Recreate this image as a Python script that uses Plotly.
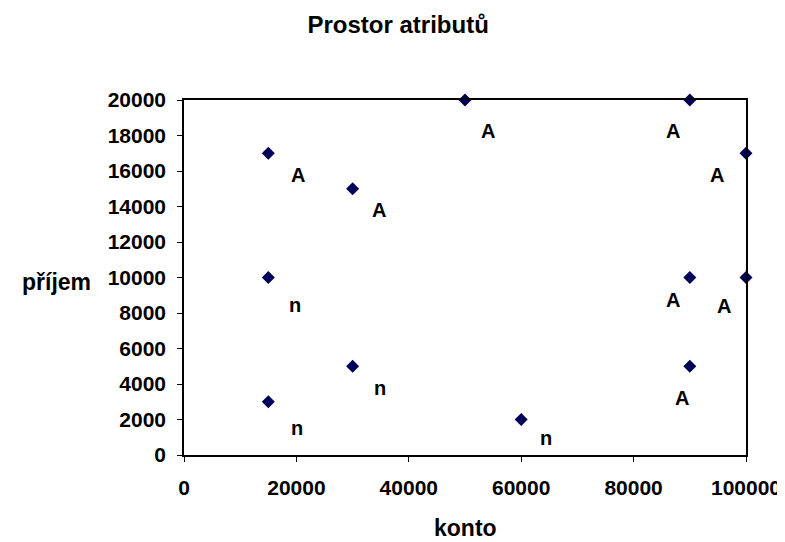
import plotly.graph_objects as go

# data
konto = [15000, 30000, 50000, 90000, 100000, 15000, 90000, 100000, 30000, 15000, 60000, 90000]
prijem = [17000, 15000, 20000, 20000, 17000, 10000, 10000, 10000, 5000, 3000, 2000, 5000]

label_text = ["A", "A", "A", "A", "A", "n", "A", "A", "n", "n", "n", "A"]
label_x = [20354, 34690, 54159, 87080, 94867, 19823, 87080, 96106, 34867, 20177, 64425, 88673]
label_y = [15775, 13803, 18254, 18254, 15775, 8451, 8732, 8394, 3775, 1521, 958, 3211]

x_ticks = [0, 20000, 40000, 60000, 80000, 100000]
y_ticks = list(range(0, 20001, 2000))

FONT = "Liberation Sans, Arial, sans-serif"
tick_font = dict(family=FONT, size=21, color="black")

fig = go.Figure()
fig.add_trace(go.Scatter(
    x=konto, y=prijem, mode="markers",
    marker=dict(symbol="diamond", size=10, color="#000058"),
    cliponaxis=False, showlegend=False,
))

for t, x, y in zip(label_text, label_x, label_y):
    fig.add_annotation(x=x, y=y, text=f"<b>{t}</b>", showarrow=False,
                       font=dict(family=FONT, size=20, color="black"))

fig.add_annotation(xref="paper", yref="paper", x=-0.2265, y=0.487, xanchor="center", yanchor="middle",
                   text="<b>příjem</b>", showarrow=False,
                   font=dict(family=FONT, size=23, color="black"))
fig.add_annotation(xref="paper", yref="paper", x=0.5, y=-0.2056, xanchor="center", yanchor="middle",
                   text="<b>konto</b>", showarrow=False,
                   font=dict(family=FONT, size=23, color="black"))

fig.update_layout(
    width=785, height=542,
    margin=dict(l=176, r=42, t=92, b=95),
    paper_bgcolor="white", plot_bgcolor="white",
    title=dict(text="<b>Prostor atributů</b>", x=0.497, xanchor="center", y=0.97, yanchor="middle",
               font=dict(family=FONT, size=24, color="black")),
    xaxis=dict(range=[0, 100000], tickvals=x_ticks, ticktext=[f"<b>{v}</b>" for v in x_ticks],
               showgrid=False, zeroline=False, showline=True, linecolor="black", linewidth=1.5,
               mirror=True, ticks="outside", ticklen=5, tickcolor="black", tickfont=tick_font,
               ticklabelstandoff=8),
    yaxis=dict(range=[0, 20000], tickvals=y_ticks, ticktext=[f"<b>{v}</b>" for v in y_ticks],
               showgrid=False, zeroline=False, showline=True, linecolor="black", linewidth=1.5,
               mirror=True, ticks="outside", ticklen=5, tickcolor="black", tickfont=tick_font,
               ticklabelstandoff=7),
    xaxis2=dict(range=[0, 100000], tickvals=x_ticks, overlaying="x", anchor="y", side="bottom",
                showgrid=False, zeroline=False, showline=False, showticklabels=False,
                ticks="inside", ticklen=4, tickcolor="black"),
    yaxis2=dict(range=[0, 20000], tickvals=y_ticks, overlaying="y", anchor="x", side="left",
                showgrid=False, zeroline=False, showline=False, showticklabels=False,
                ticks="inside", ticklen=4, tickcolor="black"),
)

fig.write_html("out.html")
